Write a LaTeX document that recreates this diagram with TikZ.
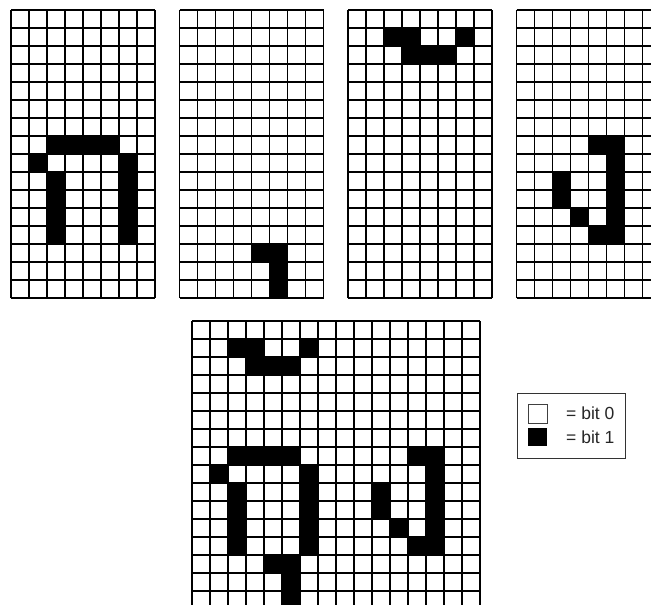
\documentclass[tikz,border=0pt]{standalone}
\usepackage{fontspec}
\setmainfont{Liberation Sans}
\tikzset{
  gridline/.style={line width=1.1pt, black},
  bitone/.style={fill=black},
  legendbox/.style={draw=black!80, line width=0.9pt},
  legendtext/.style={anchor=west, inner sep=0pt, font=\fontsize{17.5}{19}\selectfont, text=black!85}
}
\newcommand\bitgrid[5]{% x, y (top-left in px), cols, rows, black cells col/row
  \begin{scope}[shift={(#1,-#2)}]
    \foreach \c/\r in {#5} \fill[bitone] (\c*18,-\r*18) rectangle ++(18,-18);
    \draw[gridline, step=18] (0,0) grid (#3*18,-#4*18);
  \end{scope}}
\begin{document}
\begin{tikzpicture}[x=1pt,y=1pt]
\useasboundingbox (0,0) rectangle (651,-605);
\clip (0,0) rectangle (651,-605);
\fill[white] (0,0) rectangle (651,-605);
% top row of grids
\bitgrid{11}{10}{8}{16}{2/7,3/7,4/7,5/7,1/8,6/8,2/9,2/10,2/11,2/12,6/9,6/10,6/11,6/12}
\bitgrid{179.5}{10}{8}{16}{4/13,5/13,5/14,5/15}
\bitgrid{348}{10}{8}{16}{2/1,3/1,6/1,3/2,4/2,5/2}
\bitgrid{516.5}{10}{8}{16}{4/7,5/7,5/8,5/9,5/10,5/11,2/9,2/10,3/11,4/12,5/12}
% combined grid
\bitgrid{192}{321}{16}{16}{2/7,3/7,4/7,5/7,1/8,6/8,2/9,2/10,2/11,2/12,6/9,6/10,6/11,6/12,
  4/13,5/13,5/14,5/15,
  2/1,3/1,6/1,3/2,4/2,5/2,
  12/7,13/7,13/8,13/9,13/10,13/11,10/9,10/10,11/11,12/12,13/12}
% legend
\draw[legendbox] (517,-393) rectangle (625,-458);
\node[draw=black!75, line width=0.9pt, minimum width=19pt, minimum height=19pt, inner sep=0pt, anchor=north west] (zero) at (528,-404) {};
\node[fill=black, minimum width=19pt, minimum height=18pt, inner sep=0pt, anchor=north west] (one) at (528,-428) {};
\node[legendtext] (zerotext) at (566,-413.5) {= bit 0};
\node[legendtext] (onetext) at (566,-437.5) {= bit 1};
\end{tikzpicture}
\end{document}
